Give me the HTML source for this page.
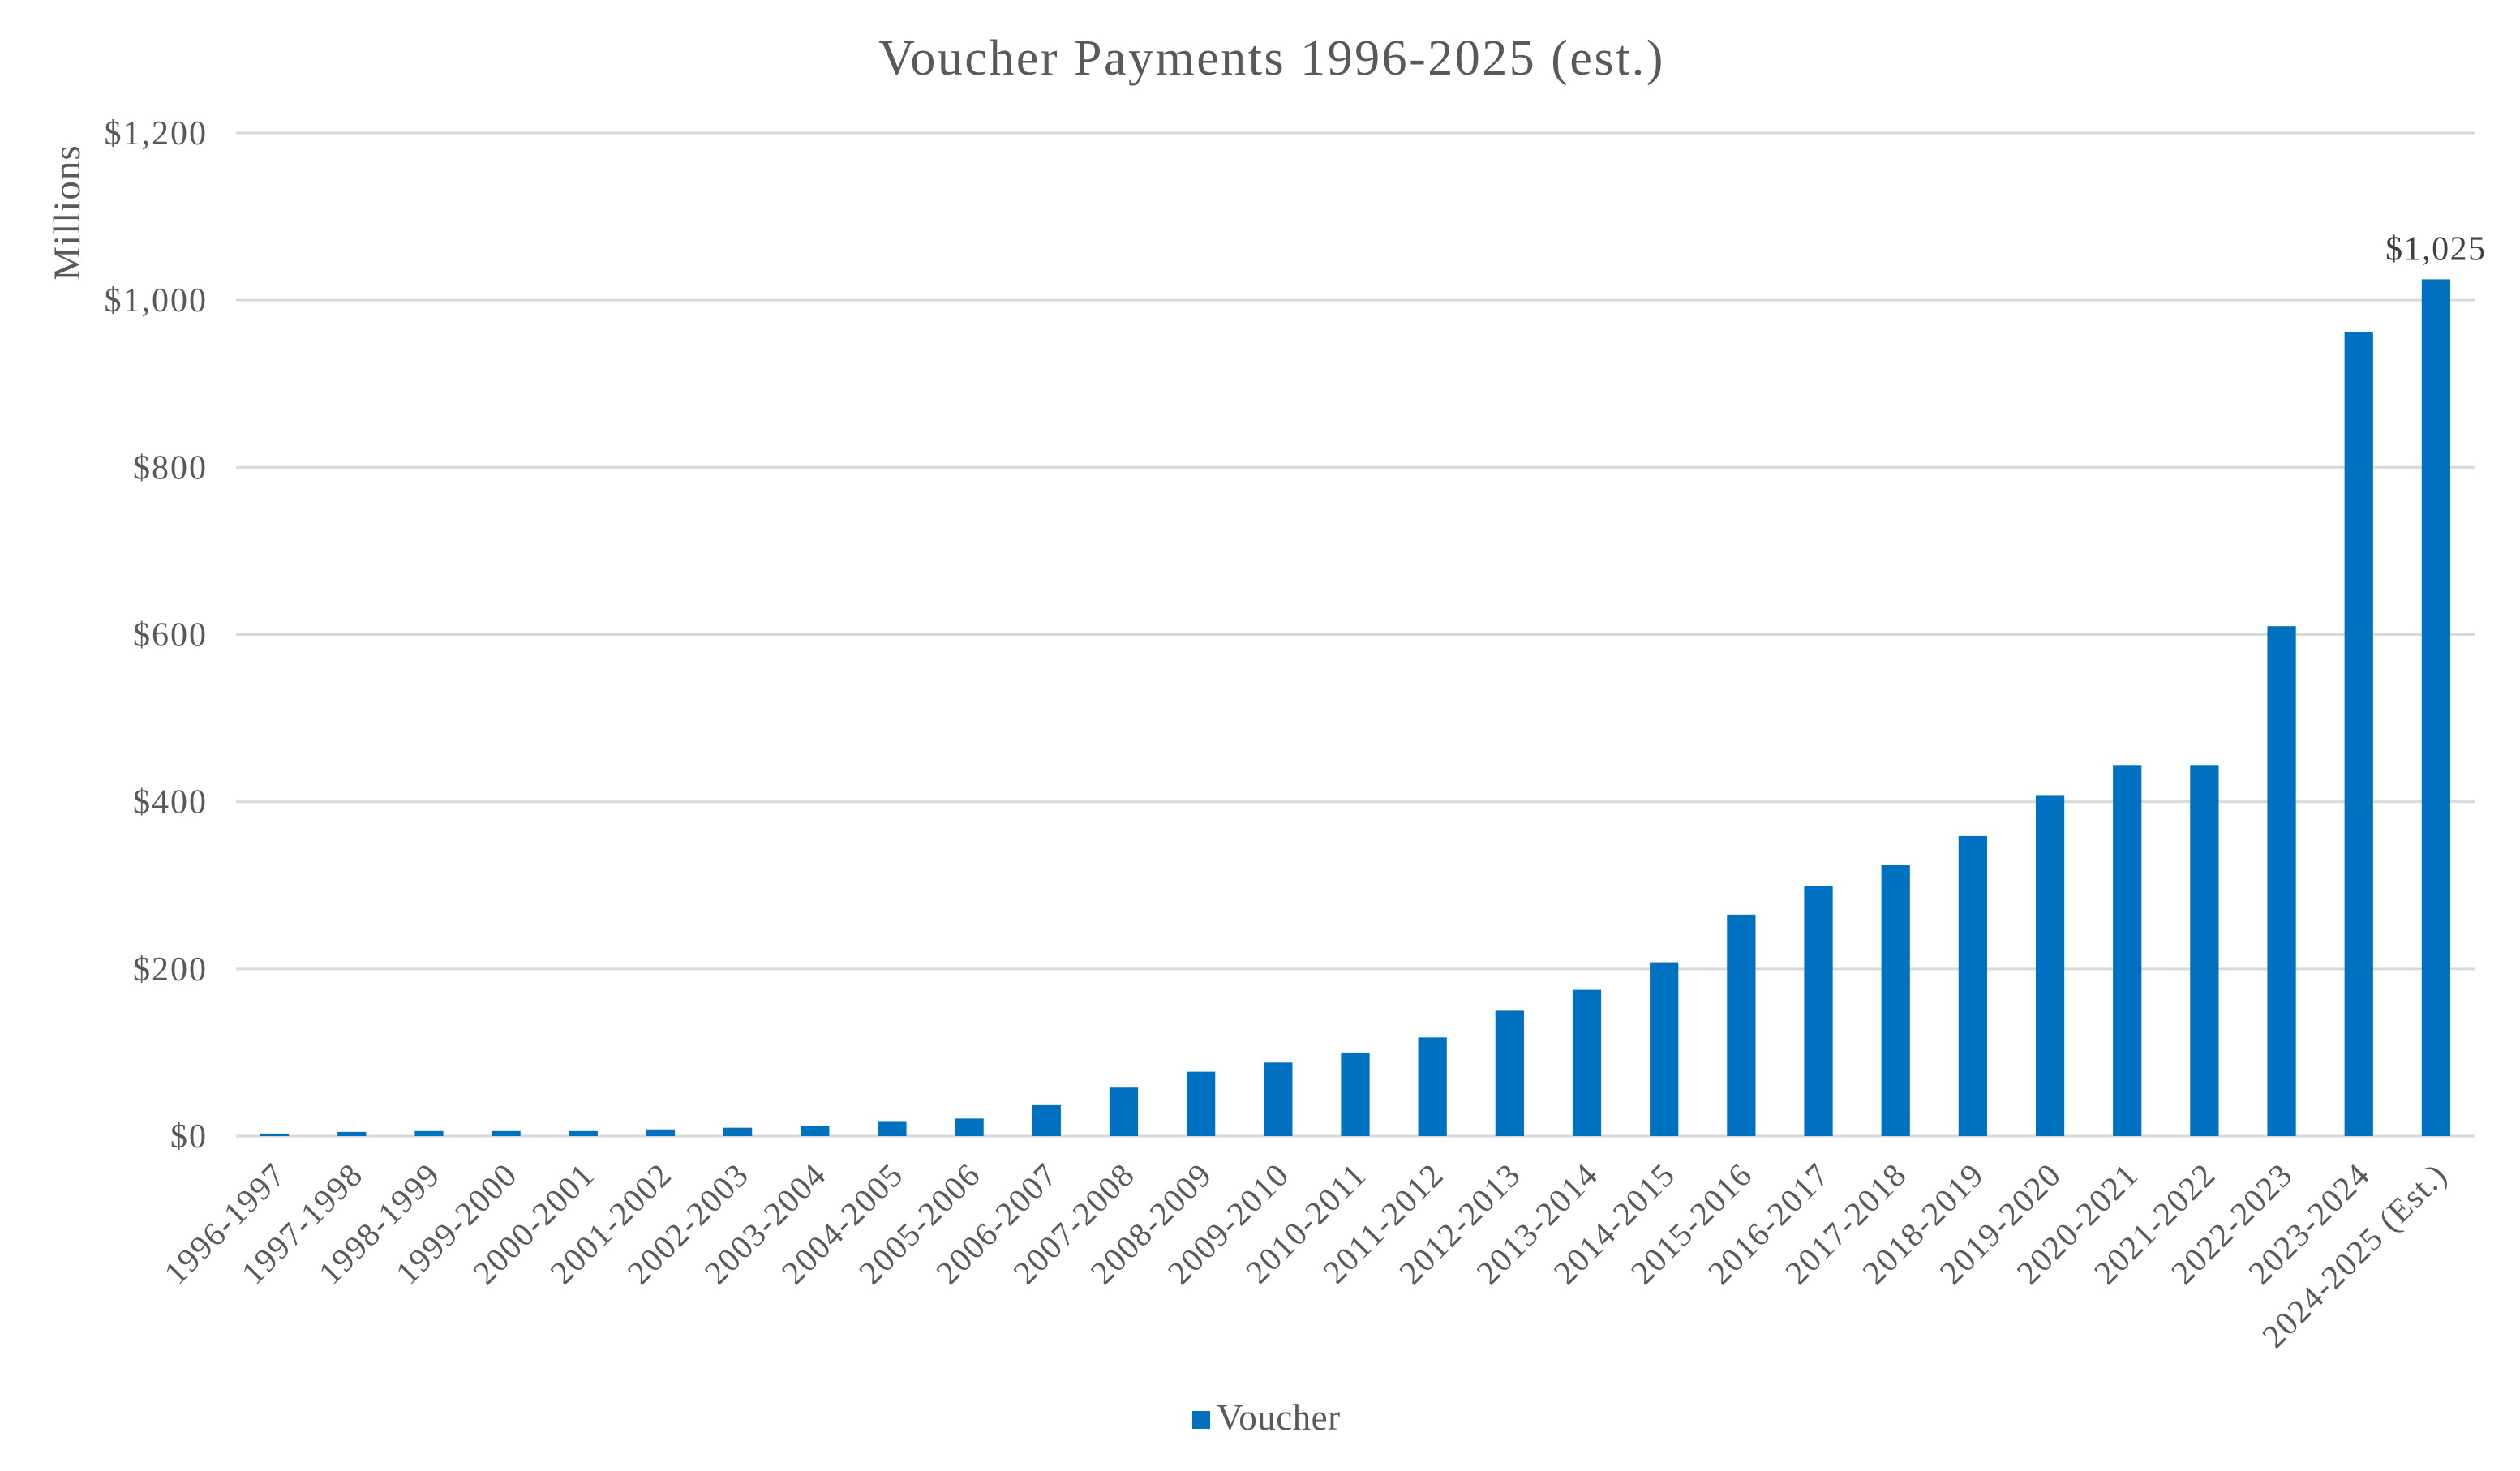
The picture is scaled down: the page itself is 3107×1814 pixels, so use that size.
<!DOCTYPE html>
<html><head><meta charset="utf-8"><style>
html,body{margin:0;padding:0;background:#fff}
svg{display:block;font-family:"Liberation Serif",serif}
</style></head><body>
<svg id="chart" width="3107" height="1814" viewBox="0 0 3107 1814">
<text x="1568" y="92" text-anchor="middle" font-size="62" letter-spacing="2.5" fill="#595959">Voucher Payments 1996-2025 (est.)</text>
<text transform="translate(98,262) rotate(-90)" text-anchor="middle" font-size="47" letter-spacing="1" fill="#595959">Millions</text>
<g id="grid"></g><g id="yticks"></g><g id="bars"></g><g id="xticks"></g>
<rect x="1470" y="1740" width="22" height="22" fill="#0070C0"/>
<text x="1500" y="1763" font-size="45" letter-spacing="0.5" fill="#595959">Voucher</text>
</svg>
<script>
const categories=["1996-1997","1997-1998","1998-1999","1999-2000","2000-2001","2001-2002","2002-2003","2003-2004","2004-2005","2005-2006","2006-2007","2007-2008","2008-2009","2009-2010","2010-2011","2011-2012","2012-2013","2013-2014","2014-2015","2015-2016","2016-2017","2017-2018","2018-2019","2019-2020","2020-2021","2021-2022","2022-2023","2023-2024","2024-2025 (Est.)"];
const values=[3,5,6,6,6,8,10,12,17,21,37,58,77,88,100,118,150,175,208,265,299,324,359,408,444,444,610,962,1025];
const yTicks=[0,200,400,600,800,1000,1200];
const yTickLabels=["$0","$200","$400","$600","$800","$1,000","$1,200"];
const NS="http://www.w3.org/2000/svg";
const L=291,R=3051,Y0=1401,Y1=164,YMAX=1200;
const n=categories.length,band=(R-L)/n,bw=band*0.37;
const y=v=>Y0-(v/YMAX)*(Y0-Y1);
const x=i=>L+band*(i+0.5);
function mk(t,a,p){const e=document.createElementNS(NS,t);for(const k in a)e.setAttribute(k,a[k]);p.appendChild(e);return e;}
const grid=document.getElementById('grid'),yt=document.getElementById('yticks'),bars=document.getElementById('bars'),xt=document.getElementById('xticks');
yTicks.forEach((v,i)=>{
 const g=mk('line',{x1:L,x2:R,y1:y(v),y2:y(v),stroke:'#d9d9d9','stroke-width':3},grid);
 
 
 const t=mk('text',{x:256,y:y(v)+14,'text-anchor':'end','font-size':42,'letter-spacing':2,fill:'#595959'},yt);
 t.textContent=yTickLabels[i];
 
 
});
values.forEach((v,i)=>{
 const b=mk('rect',{x:x(i)-bw/2,y:y(v),width:bw,height:Y0-y(v),fill:'#0070C0'},bars);
 
 
 const t=mk('text',{'text-anchor':'end','font-size':41,'letter-spacing':1.5,fill:'#595959',transform:`translate(${x(i)+16},${Y0+50}) rotate(-45)`},xt);
 t.textContent=categories[i];
 
 
});
const li=n-1;
const dl=mk('text',{x:x(li),y:y(values[li])-24,'text-anchor':'middle','font-size':42,'letter-spacing':1.5,fill:'#404040'},bars);
dl.textContent='$'+values[li].toLocaleString('en-US');


</script>
</body></html>
